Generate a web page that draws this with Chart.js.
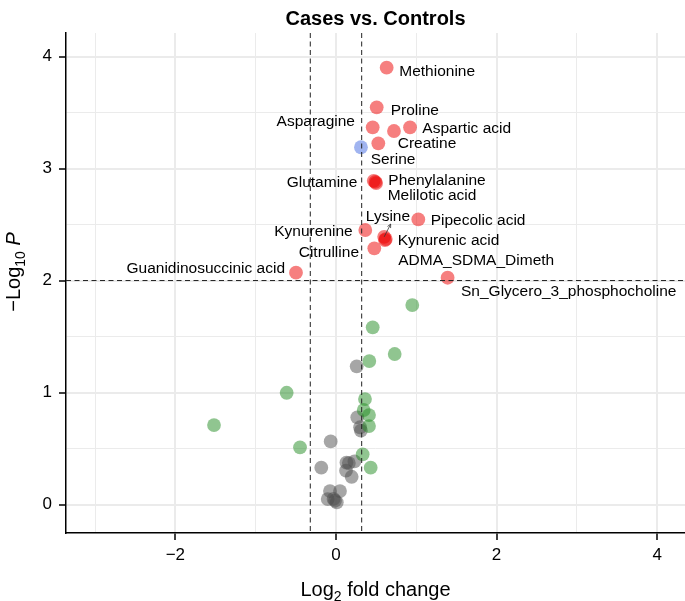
<!DOCTYPE html>
<html><head><meta charset="utf-8">
<script src="https://cdn.jsdelivr.net/npm/chart.js@4/dist/chart.umd.min.js"></script>
<style>html,body{margin:0;padding:0;background:#fff}canvas{display:block}</style>
</head><body>
<canvas id="c" width="685" height="601"></canvas>
<script>
const FONT = '"Liberation Sans", Arial, Helvetica, sans-serif';

// ---------- data ----------
// significant by p-value and log2 fold change (red)
const sigNames = ['Methionine','Proline','Asparagine','','Aspartic acid','Creatine',
  'Glutamine','Phenylalanine','Melilotic acid','Pipecolic acid','Kynurenine',
  'Lysine','Kynurenic acid','ADMA_SDMA_Dimeth','Citrulline','Guanidinosuccinic acid',
  'Sn_Glycero_3_phosphocholine'];
const sigLog2FC = [0.631,0.507,0.457,0.722,0.922,0.527,
  0.47,0.49,0.50,1.025,0.365,
  0.60,0.62,0.61,0.477,-0.498,
  1.39];
const sigNegLogP = [3.90,3.546,3.368,3.335,3.368,3.225,
  2.89,2.88,2.87,2.546,2.451,
  2.39,2.37,2.36,2.288,2.07,
  2.025];
// significant by p-value only (blue)
const pOnlyNames = ['Serine'];
const pOnlyLog2FC = [0.311];
const pOnlyNegLogP = [3.19];
// log2 fold change only (green)
const fcOnlyLog2FC = [0.95,0.457,0.731,0.415,-0.614,0.361,0.345,0.411,0.411,-0.448,0.332,0.432,-1.519];
const fcOnlyNegLogP = [1.781,1.582,1.344,1.281,0.998,0.942,0.844,0.799,0.701,0.511,0.448,0.329,0.71];
// not significant (grey)
const nsLog2FC = [0.258,0.265,0.30,0.31,-0.066,-0.183,0.13,0.16,0.23,0.125,0.195,-0.075,0.05,-0.103,-0.012,0.01,-0.03];
const nsNegLogP = [1.234,0.779,0.69,0.66,0.564,0.329,0.375,0.37,0.385,0.302,0.248,0.12,0.12,0.049,0.034,0.02,0.05];

const xMajorTicks = [-2,0,2,4];
const xMinorTicks = [-3,-1,1,3];
const yMajorTicks = [0,1,2,3,4];
const yMinorTicks = [0.5,1.5,2.5,3.5];
const fcCutoff = 0.32;
const negLogPCutoff = 2;

// label placement (pixel offsets from the point, and text alignment)
const labelLayout = {
  'Methionine': {dx:12.6, dy:2.3, align:'left'},
  'Proline': {dx:14, dy:1.7, align:'left'},
  'Asparagine': {dx:-17.7, dy:-6.6, align:'right'},
  'Aspartic acid': {dx:12.3, dy:0, align:'left'},
  'Creatine': {dx:19.4, dy:-1, align:'left'},
  'Serine': {dx:9.7, dy:11, align:'left'},
  'Glutamine': {dx:-16.4, dy:0.9, align:'right'},
  'Phenylalanine': {dx:13, dy:-2.9, align:'left'},
  'Melilotic acid': {dx:11.5, dy:11.2, align:'left'},
  'Pipecolic acid': {dx:12.4, dy:-0.3, align:'left'},
  'Kynurenine': {dx:-12.6, dy:0, align:'right'},
  'Lysine': {dx:3.8, dy:-21.1, align:'center', arrow:{dx:6.5, dy:-12.8}},
  'Kynurenic acid': {dx:11.9, dy:0, align:'left'},
  'ADMA_SDMA_Dimeth': {dx:13.3, dy:19.1, align:'left'},
  'Citrulline': {dx:-15.3, dy:3.5, align:'right'},
  'Guanidinosuccinic acid': {dx:-11, dy:-5, align:'right'},
  'Sn_Glycero_3_phosphocholine': {dx:13.4, dy:12.3, align:'left'}
};

const pts = (xs, ys) => xs.map((x, i) => ({x, y: ys[i]}));
const fmt = v => v < 0 ? '\u2212' + Math.abs(v) : String(v);

function drawRich(ctx, parts, x, y) {
  let w = 0;
  parts.forEach(p => { ctx.font = p.font; p.w = ctx.measureText(p.t).width; w += p.w; });
  let cx = x - w / 2;
  ctx.textAlign = 'left';
  ctx.textBaseline = 'alphabetic';
  parts.forEach(p => { ctx.font = p.font; ctx.fillText(p.t, cx, y + (p.dy || 0)); cx += p.w; });
}

const decorPlugin = {
  id: 'decor',
  afterDatasetsDraw(chart) {
    const {ctx, chartArea: a, scales: {x, y}} = chart;
    ctx.save();
    // cutoff lines
    ctx.strokeStyle = '#222';
    ctx.lineWidth = 1;
    ctx.setLineDash([5, 3.5]);
    [-fcCutoff, fcCutoff].forEach(v => {
      const px = x.getPixelForValue(v);
      ctx.beginPath(); ctx.moveTo(px, a.top); ctx.lineTo(px, a.bottom); ctx.stroke();
    });
    const py = y.getPixelForValue(negLogPCutoff);
    ctx.beginPath(); ctx.moveTo(a.left, py); ctx.lineTo(a.right, py); ctx.stroke();
    ctx.setLineDash([]);
    // labels
    ctx.fillStyle = '#000';
    ctx.font = '15.5px ' + FONT;
    ctx.textBaseline = 'alphabetic';
    const labelled = [[0, sigNames], [1, pOnlyNames]];
    labelled.forEach(([di, names]) => {
      const meta = chart.getDatasetMeta(di);
      names.forEach((n, i) => {
        const L = labelLayout[n];
        if (!n || !L) return;
        const el = meta.data[i];
        ctx.textAlign = L.align;
        ctx.fillText(n, el.x + L.dx, el.y + L.dy + 5.5);
        if (L.arrow) {
          const x0 = el.x, y0 = el.y, x1 = el.x + L.arrow.dx, y1 = el.y + L.arrow.dy;
          ctx.strokeStyle = '#333'; ctx.lineWidth = 0.8;
          ctx.beginPath(); ctx.moveTo(x0, y0); ctx.lineTo(x1, y1); ctx.stroke();
          const ang = Math.atan2(y1 - y0, x1 - x0), h = 4;
          ctx.beginPath();
          ctx.moveTo(x1 - h * Math.cos(ang - 0.45), y1 - h * Math.sin(ang - 0.45));
          ctx.lineTo(x1, y1);
          ctx.lineTo(x1 - h * Math.cos(ang + 0.45), y1 - h * Math.sin(ang + 0.45));
          ctx.stroke();
        }
      });
    });
    ctx.restore();
  },
  afterDraw(chart) {
    const {ctx, chartArea: a} = chart;
    const cx = (a.left + a.right) / 2;
    ctx.save();
    ctx.fillStyle = '#000';
    ctx.font = 'bold 20px ' + FONT;
    ctx.textAlign = 'center';
    ctx.textBaseline = 'alphabetic';
    ctx.fillText('Cases vs. Controls', cx, 25);
    // x title
    drawRich(ctx, [
      {t: 'Log', font: '20px ' + FONT},
      {t: '2', font: '14px ' + FONT, dy: 5},
      {t: ' fold change', font: '20px ' + FONT}
    ], cx, 596);
    // y title
    ctx.translate(19.5, 272);
    ctx.rotate(-Math.PI / 2);
    drawRich(ctx, [
      {t: '\u2212Log', font: '20px ' + FONT},
      {t: '10', font: '14px ' + FONT, dy: 5},
      {t: ' ', font: '20px ' + FONT},
      {t: 'P', font: 'italic 20px ' + FONT}
    ], 0, 0);
    ctx.restore();
  }
};

const isMajor = (list, v) => list.some(m => Math.abs(m - v) < 1e-9);

new Chart(document.getElementById('c'), {
  type: 'scatter',
  data: {
    datasets: [
      {data: pts(sigLog2FC, sigNegLogP), backgroundColor: 'rgba(238,0,0,0.5)'},
      {data: pts(pOnlyLog2FC, pOnlyNegLogP), backgroundColor: 'rgba(65,105,225,0.5)'},
      {data: pts(fcOnlyLog2FC, fcOnlyNegLogP), backgroundColor: 'rgba(34,139,34,0.5)'},
      {data: pts(nsLog2FC, nsNegLogP), backgroundColor: 'rgba(77,77,77,0.5)'}
    ].map(d => Object.assign(d, {pointRadius: 6.9, borderWidth: 0, pointHoverRadius: 6.9, clip: false}))
  },
  options: {
    responsive: false,
    animation: false,
    events: [],
    layout: {autoPadding: false, padding: {top: 33, right: 0, left: 0, bottom: 0}},
    plugins: {legend: {display: false}, tooltip: {enabled: false}, title: {display: false}},
    scales: {
      x: {
        type: 'linear', min: -3.362, max: 4.346,
        afterBuildTicks: s => { s.ticks = [...xMajorTicks, ...xMinorTicks].sort((a, b) => a - b).map(v => ({value: v})); },
        afterFit: s => { s.height = 68; s.paddingLeft = 0; s.paddingRight = 0; },
        ticks: {
          autoSkip: false, maxRotation: 0, padding: 5, color: '#000',
          font: {size: 17, family: FONT},
          callback: v => isMajor(xMajorTicks, v) ? fmt(v) : ''
        },
        grid: {
          color: '#ebebeb',
          lineWidth: c => c.tick && isMajor(xMajorTicks, c.tick.value) ? 2 : 1,
          tickColor: c => c.tick && isMajor(xMajorTicks, c.tick.value) ? '#000' : 'rgba(0,0,0,0)',
          tickWidth: 1.5, tickLength: 7, drawTicks: true
        },
        border: {display: true, color: '#000', width: 1.5}
      },
      y: {
        type: 'linear', min: -0.254, max: 4.21,
        afterBuildTicks: s => { s.ticks = [...yMajorTicks, ...yMinorTicks].sort((a, b) => a - b).map(v => ({value: v})); },
        afterFit: s => { s.width = 66; s.paddingTop = 0; s.paddingBottom = 0; },
        ticks: {
          autoSkip: false, padding: 7, color: '#000',
          font: {size: 17, family: FONT},
          callback: v => isMajor(yMajorTicks, v) ? fmt(v) : ''
        },
        grid: {
          color: '#ebebeb',
          lineWidth: c => c.tick && isMajor(yMajorTicks, c.tick.value) ? 2 : 1,
          tickColor: c => c.tick && isMajor(yMajorTicks, c.tick.value) ? '#000' : 'rgba(0,0,0,0)',
          tickWidth: 1.5, tickLength: 7, drawTicks: true
        },
        border: {display: true, color: '#000', width: 1.5}
      }
    }
  },
  plugins: [decorPlugin]
});
</script>
</body></html>
